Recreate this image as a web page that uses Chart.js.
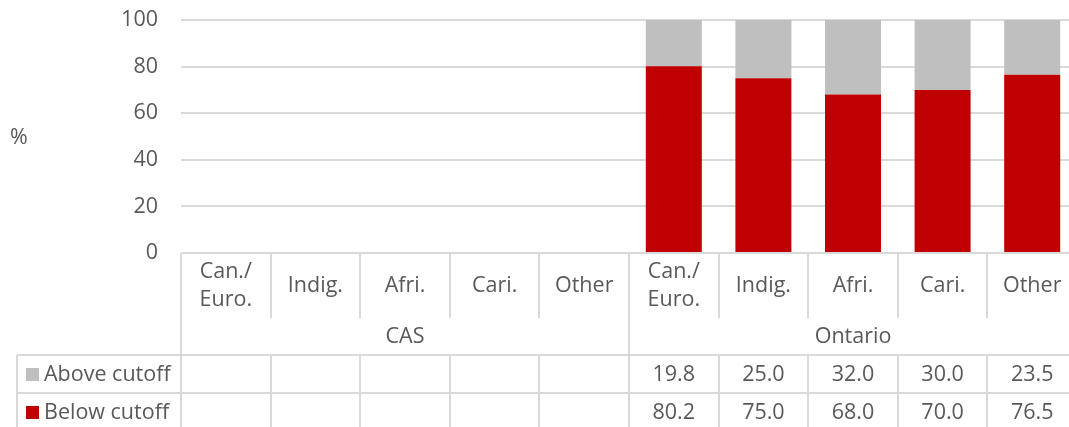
<!DOCTYPE html>
<html lang="en">
<head>
  <meta charset="UTF-8">
  <title>Above / below cutoff</title>
  <script src="https://cdn.jsdelivr.net/npm/chart.js"></script>
  <style>
    html, body { margin: 0; padding: 0; background: white; overflow: hidden; }
    .contenedor { width: 1080px; height: 427px; }
  </style>
</head>
<body>
  <div class="contenedor">
    <canvas id="grafico" width="1080" height="427"></canvas>
  </div>

  <script>
    // datos
    const grupos = ["CAS", "Ontario"];
    const subcategorias = [["Can./", "Euro."], "Indig.", "Afri.", "Cari.", "Other"];
    const encima = [null, null, null, null, null, 19.8, 25.0, 32.0, 30.0, 23.5];
    const debajo = [null, null, null, null, null, 80.2, 75.0, 68.0, 70.0, 76.5];
    const yTicks = [0, 20, 40, 60, 80, 100];

    const etiquetas = [];
    grupos.forEach(g => subcategorias.forEach(s => etiquetas.push(s)));

    const ROJO = "#C00000", GRIS = "#BFBFBF", TEXTO = "#595959", LINEA = "#D9D9D9";
    const FUENTE = "'Open Sans', sans-serif";
    const TAM = 21.5;

    // tabla de datos bajo el gráfico
    const tablaPlugin = {
      id: "tabla",
      afterDraw(chart) {
        const ctx = chart.ctx;
        const area = chart.chartArea;
        const xs = chart.scales.x;
        const n = etiquetas.length;
        const ancho = (area.right - area.left) / n;
        const y0 = area.bottom;
        const yCat = y0 + 65, yFila1 = y0 + 102, yFila2 = y0 + 140, yFin = y0 + 178;
        const xLeyenda = 17;

        ctx.save();
        ctx.strokeStyle = LINEA;
        ctx.lineWidth = 2;
        const linea = (x1, y1, x2, y2) => {
          ctx.beginPath(); ctx.moveTo(x1, y1); ctx.lineTo(x2, y2); ctx.stroke();
        };

        // horizontales
        linea(xLeyenda, yFila1, area.right, yFila1);
        linea(xLeyenda, yFila2, area.right, yFila2);
        // verticales
        linea(xLeyenda, yFila1, xLeyenda, yFin);
        for (let i = 0; i <= n; i++) {
          const x = Math.round(xs.getPixelForValue(i) - ancho / 2);
          if (i % subcategorias.length === 0) {
            linea(x, y0, x, yFin);
          } else {
            linea(x, y0, x, yCat);
            linea(x, yFila1, x, yFin);
          }
        }

        ctx.fillStyle = TEXTO;
        ctx.font = TAM + "px " + FUENTE;
        ctx.textAlign = "center";
        ctx.textBaseline = "middle";

        etiquetas.forEach((lab, i) => {
          const x = xs.getPixelForValue(i);
          if (Array.isArray(lab)) {
            ctx.fillText(lab[0], x, y0 + 19);
            ctx.fillText(lab[1], x, y0 + 47);
          } else {
            ctx.fillText(lab, x, y0 + 33);
          }
          if (encima[i] != null) ctx.fillText(encima[i].toFixed(1), x, (yFila1 + yFila2) / 2 + 1);
          if (debajo[i] != null) ctx.fillText(debajo[i].toFixed(1), x, (yFila2 + yFin) / 2 + 1);
        });

        grupos.forEach((g, gi) => {
          const a = xs.getPixelForValue(gi * subcategorias.length) - ancho / 2;
          const b = xs.getPixelForValue((gi + 1) * subcategorias.length - 1) + ancho / 2;
          ctx.fillText(g, (a + b) / 2, yCat + 19);
        });

        // leyenda en la tabla
        const filas = [
          { txt: "Above cutoff", color: GRIS, y: (yFila1 + yFila2) / 2 },
          { txt: "Below cutoff", color: ROJO, y: (yFila2 + yFin) / 2 }
        ];
        ctx.textAlign = "left";
        filas.forEach(f => {
          ctx.fillStyle = f.color;
          ctx.fillRect(26, f.y - 6, 13, 13);
          ctx.fillStyle = TEXTO;
          ctx.fillText(f.txt, 44, f.y + 1);
        });

        // título del eje
        ctx.textAlign = "center";
        ctx.fillText("%", 19, (area.top + area.bottom) / 2 + 1);
        ctx.restore();
      }
    };

    new Chart(document.getElementById("grafico"), {
      type: "bar",
      data: {
        labels: etiquetas,
        datasets: [
          { label: "Below cutoff", data: debajo, backgroundColor: ROJO },
          { label: "Above cutoff", data: encima, backgroundColor: GRIS }
        ]
      },
      options: {
        responsive: false,
        animation: false,
        layout: { padding: { top: 20, bottom: 174, left: 0, right: 3 } },
        datasets: { bar: { barPercentage: 1, categoryPercentage: 0.625 } },
        plugins: { legend: { display: false }, tooltip: { enabled: false } },
        scales: {
          x: { stacked: true, display: false },
          y: {
            stacked: true,
            min: 0,
            max: 100,
            afterBuildTicks: s => { s.ticks = yTicks.map(v => ({ value: v })); },
            afterFit: s => { s.width = 181; s.paddingTop = 0; s.paddingBottom = 0; },
            border: { display: false },
            grid: { color: LINEA, lineWidth: 2, drawTicks: false },
            ticks: { color: TEXTO, padding: 23, font: { family: FUENTE, size: TAM } }
          }
        }
      },
      plugins: [tablaPlugin]
    });
  </script>
</body>
</html>
